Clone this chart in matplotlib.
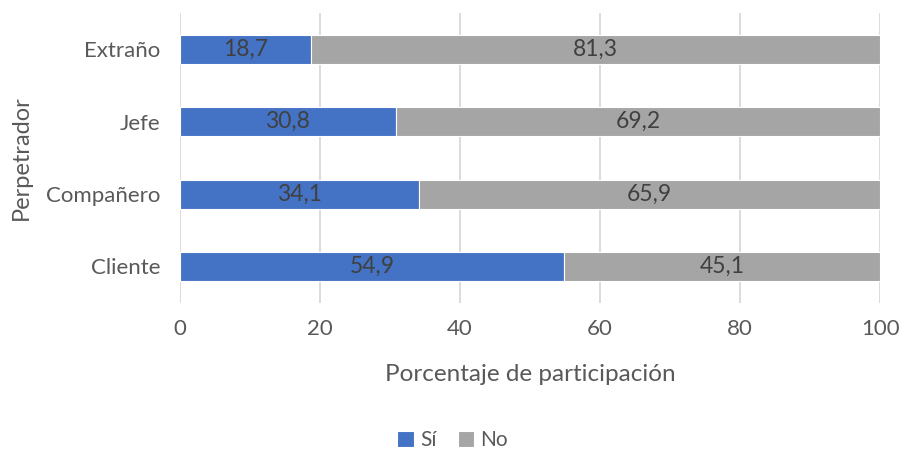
import numpy as np
import matplotlib.pyplot as plt

plt.rcParams['font.family'] = ['Lato', 'DejaVu Sans']

categories = ["Cliente", "Compañero", "Jefe", "Extraño"]
si = [54.9, 34.1, 30.8, 18.7]
no = [45.1, 65.9, 69.2, 81.3]

blue = "#4472C4"
gray = "#A5A5A5"
text_dark = "#404040"
text_tick = "#595959"

fig = plt.figure(figsize=(9.02, 4.53), dpi=100)
ax = fig.add_axes([0.1996, 0.332, 0.7761, 0.6386])

y = np.arange(len(categories))
b1 = ax.barh(y, si, height=0.4, color=blue, edgecolor="white", linewidth=0.8, label="Sí", zorder=3)
b2 = ax.barh(y, no, left=si, height=0.4, color=gray, edgecolor="white", linewidth=0.8, label="No", zorder=3)

for i in range(len(categories)):
    ax.text(si[i] / 2, y[i], f"{si[i]:.1f}".replace(".", ","), ha="center", va="center",
            fontsize=16.5, color=text_dark, zorder=4)
    ax.text(si[i] + no[i] / 2, y[i], f"{no[i]:.1f}".replace(".", ","), ha="center", va="center",
            fontsize=16.5, color=text_dark, zorder=4)

ax.set_xlim(0, 100)
ax.set_ylim(-0.5, 3.5)
ax.set_xticks(np.arange(0, 101, 20))
ax.set_yticks(y)
ax.set_yticklabels(categories)
ax.tick_params(axis="both", length=0, labelsize=16, labelcolor=text_tick)
ax.tick_params(axis="x", pad=12)
ax.tick_params(axis="y", pad=14)
ax.grid(axis="x", color="#D9D9D9", linewidth=1.3, zorder=0)
for s in ax.spines.values():
    s.set_visible(False)

ax.set_xlabel("Porcentaje de participación", fontsize=17.5, color=text_tick, labelpad=18)
ax.set_ylabel("Perpetrador", fontsize=17, color=text_tick, labelpad=10)

fig.legend(handles=[b1, b2], loc="center", bbox_to_anchor=(0.502, 0.028), ncol=2, frameon=False,
           fontsize=15, labelcolor=text_tick, handlelength=0.8, handleheight=0.8,
           handletextpad=0.3, columnspacing=1.0)

fig.savefig("out.png", dpi=100)
